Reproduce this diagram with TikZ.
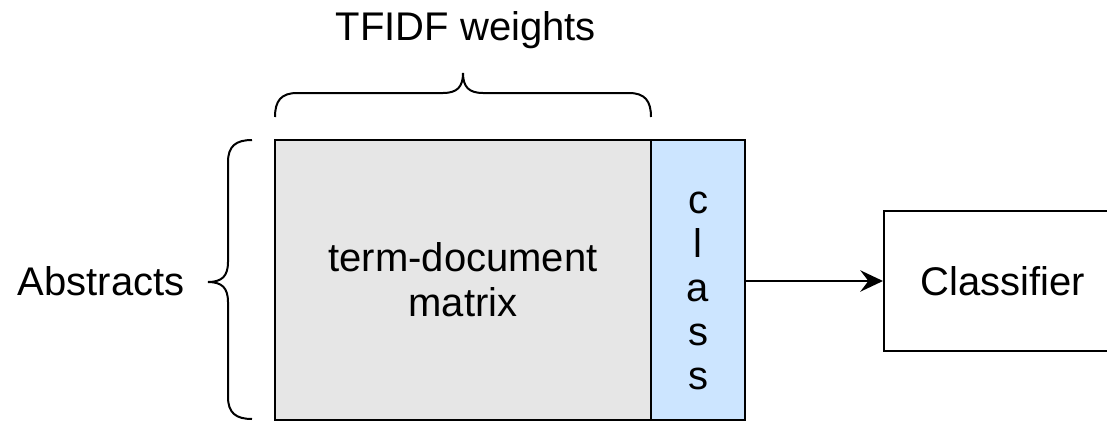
\documentclass[tikz,border=0pt]{standalone}
\usepackage{fontspec}
\setmainfont{Liberation Sans}
\usetikzlibrary{arrows.meta}
\definecolor{matgray}{HTML}{E6E6E6}
\definecolor{classblue}{HTML}{CCE5FF}
\begin{document}
\begin{tikzpicture}[x=0.75pt,y=-0.75pt,
  box/.style={draw=black,line width=1.5pt,inner sep=0pt,
    font=\fontsize{30pt}{33.75pt}\selectfont,align=center},
  lbl/.style={font=\fontsize{30pt}{33.75pt}\selectfont,inner sep=0pt},
  curly/.style={draw=black,line width=1.5pt},
  link/.style={draw=black,line width=1.5pt,
    -{Stealth[length=17pt,width=16pt,inset=6pt]}}]
\useasboundingbox (0,0) rectangle (1107,425);

% term-document matrix and its class column
\node[box,fill=matgray,minimum width=282pt,minimum height=210pt]
  (mat) at (463,280) {term-document\\matrix};
\node[box,fill=classblue,minimum width=70.5pt,minimum height=210pt]
  (cls) at (698,280) {};
\node[lbl,align=center,font=\fontsize{30pt}{33pt}\selectfont]
  (clstxt) at (698,291) {c\\l\\a\\s\\s};

% classifier box (runs past the right edge)
\node[box,fill=white,minimum width=177.75pt,minimum height=105pt]
  (clf) at (1002.5,281) {Classifier};

\draw[link] (clf.west -| cls.east) -- (clf.west);

% curly bracket over the term columns
\coordinate (tb1) at (275,117);
\coordinate (tb2) at (651,117);
\draw[curly] (tb1) .. controls (275,101) and (281,93) .. (297,93)
  -- (443,93) .. controls (457,93) and (463,87) .. (463,73)
  .. controls (463,87) and (469,93) .. (483,93)
  -- (629,93) .. controls (645,93) and (651,101) .. (tb2);
\node[lbl,anchor=base] (tfidf) at (466,40) {TFIDF weights};

% curly bracket beside the document rows
\coordinate (lb1) at (252,140);
\coordinate (lb2) at (252,419);
\draw[curly] (lb1) .. controls (236,140) and (228,146) .. (228,162)
  -- (228,262) .. controls (228,276) and (222,282) .. (208,282)
  .. controls (222,282) and (228,288) .. (228,302)
  -- (228,397) .. controls (228,413) and (236,419) .. (lb2);
\node[lbl,anchor=base] (abs) at (101,295) {Abstracts};
\end{tikzpicture}
\end{document}
